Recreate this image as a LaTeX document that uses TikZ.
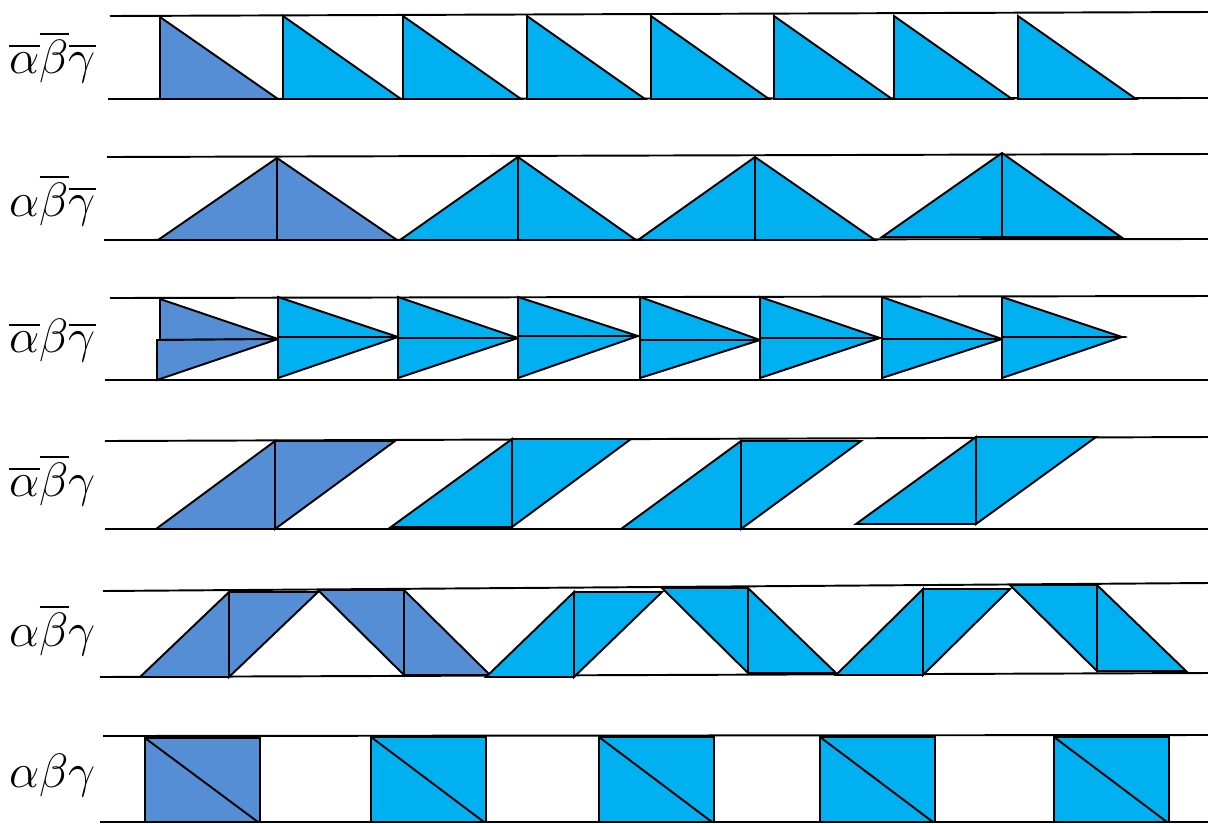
\documentclass[tikz,border=0pt]{standalone}
\usepackage{amsmath}
\usepackage{graphicx}
\usepackage{xcolor}
\usepackage{tikz}
\definecolor{cellblue}{RGB}{85,142,213}
\definecolor{cellcyan}{RGB}{0,176,240}
\newcommand{\biglbl}[1]{\scalebox{1.1}{$#1$}}

\begin{document}
\begin{tikzpicture}[
    x=0.02cm, y=-0.02cm,
    rail/.style={line width=1.1pt},
    tri/.style={draw, line width=1.1pt, line join=miter, fill=cellcyan},
    firsttri/.style={tri, fill=cellblue},
    lbl/.style={anchor=west, inner sep=0pt, font=\Huge}
]
\useasboundingbox (0,0) rectangle (1208,823);

% row 1
\node[lbl] (lbl1) at (9,57) {\biglbl{\overline{\alpha}\overline{\beta}\overline{\gamma}}};
\draw[rail] (110,16) -- (1208,12);
\draw[rail] (108,99) -- (1208,98);
\filldraw[firsttri] (160,17) -- (160,99) -- (278,99) -- cycle;
\foreach \x in {283,403,527,651,774,894,1018}
    \filldraw[tri] (\x,16) -- (\x,99) -- ++(118,0) -- cycle;

% row 2
\node[lbl] (lbl2) at (9,200) {\biglbl{\alpha\overline{\beta}\overline{\gamma}}};
\draw[rail] (107,157) -- (1208,154);
\draw[rail] (104,240) -- (1208,239);
\filldraw[firsttri] (158,240) -- (277,158) -- (397,240) -- cycle;
\draw[line width=1.1pt] (277,158) -- (277,240);
\foreach \l/\m/\r/\t/\b in {400/518/636/157/240, 638/755/875/157/240, 882/1002/1121/153/237}{
    \filldraw[tri] (\l,\b) -- (\m,\t) -- (\r,\b) -- cycle;
    \draw[line width=1.1pt] (\m,\t) -- (\m,\b);
}

% row 3
\node[lbl] (lbl3) at (9,340) {\biglbl{\overline{\alpha}\beta\overline{\gamma}}};
\draw[rail] (110,298) -- (1208,296);
\draw[rail] (105,380) -- (1208,380);
\filldraw[firsttri] (160,299) -- (160,340) -- (278,339) -- cycle;
\filldraw[firsttri] (157,340) -- (157,380) -- (278,339) -- cycle;
\foreach \x/\m in {278/337, 398/338, 518/336, 640/340, 760/338, 882/339, 1002/337}{
    \filldraw[tri] (\x,297) -- (\x,\m) -- (\x+120,\m) -- cycle;
    \filldraw[tri] (\x,\m) -- (\x,378) -- (\x+120,\m) -- cycle;
}

% row 4
\node[lbl] (lbl4) at (9,480) {\biglbl{\overline{\alpha}\overline{\beta}\gamma}};
\draw[rail] (105,441) -- (1208,437);
\draw[rail] (105,529) -- (1208,529);
\filldraw[firsttri] (156,529) -- (275,529) -- (275,441) -- cycle;
\filldraw[firsttri] (275,441) -- (395,441) -- (275,529) -- cycle;
\foreach \l/\m/\r/\t/\b in {391/512/631/439/527, 621/741/861/441/529, 856/976/1096/437/524}{
    \filldraw[tri] (\l,\b) -- (\m,\b) -- (\m,\t) -- cycle;
    \filldraw[tri] (\m,\t) -- (\r,\t) -- (\m,\b) -- cycle;
}

% row 5
\node[lbl] (lbl5) at (9,630) {\biglbl{\alpha\overline{\beta}\gamma}};
\draw[rail] (103,591) -- (1208,583);
\draw[rail] (100,677) -- (1208,673);
\filldraw[firsttri] (140,677) -- (229,677) -- (229,592) -- cycle;
\filldraw[firsttri] (229,592) -- (318,592) -- (229,677) -- cycle;
\filldraw[firsttri] (318,590) -- (404,590) -- (404,675) -- cycle;
\filldraw[firsttri] (404,590) -- (404,675) -- (490,675) -- cycle;
\foreach \l/\m/\r/\t/\b in {486/574/662/592/677, 836/923/1010/589/675}{
    \filldraw[tri] (\l,\b) -- (\m,\b) -- (\m,\t) -- cycle;
    \filldraw[tri] (\m,\t) -- (\r,\t) -- (\m,\b) -- cycle;
}
\foreach \l/\m/\r/\t/\b in {662/748/836/588/673, 1010/1097/1186/585/671}{
    \filldraw[tri] (\l,\t) -- (\m,\t) -- (\m,\b) -- cycle;
    \filldraw[tri] (\m,\t) -- (\m,\b) -- (\r,\b) -- cycle;
}

% row 6
\node[lbl] (lbl6) at (9,775) {\biglbl{\alpha\beta\gamma}};
\draw[rail] (103,736) -- (1208,735);
\draw[rail] (100,822) -- (1208,822);
\filldraw[firsttri] (145,738) rectangle (260,822);
\draw[line width=1.1pt] (145,738) -- (258,822);
\foreach \x in {371,599,820,1054}{
    \filldraw[tri] (\x,737) rectangle (\x+115,822);
    \draw[line width=1.1pt] (\x,737) -- (\x+113,822);
}

\end{tikzpicture}
\end{document}
